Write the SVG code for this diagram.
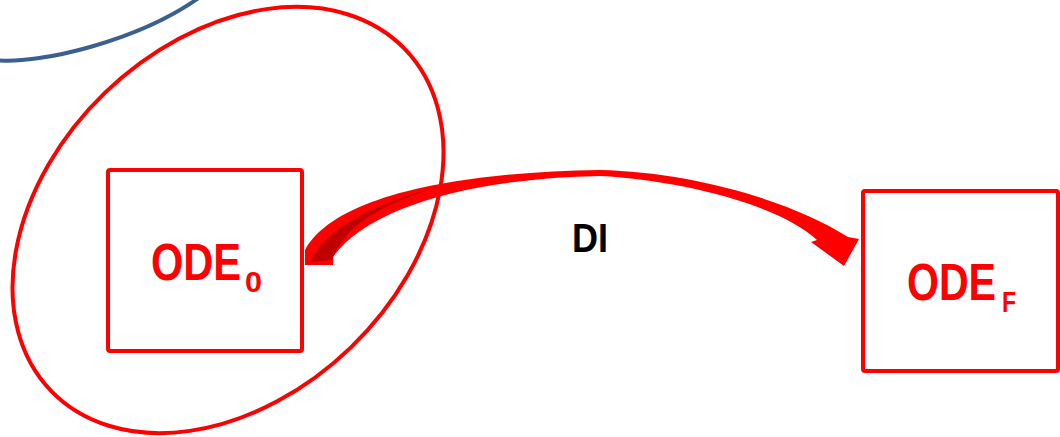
<svg xmlns="http://www.w3.org/2000/svg" width="1060" height="437" viewBox="0 0 1060 437">
<style>
.box{fill:none;stroke:#FF0000;stroke-width:4;}
.lbl{font-family:"Liberation Sans",Arial,sans-serif;font-weight:bold;fill:#FF0000;}
.di{font-family:"Liberation Sans",Arial,sans-serif;font-weight:bold;fill:#000000;}
</style>
<rect width="1060" height="437" fill="#FFFFFF"/>
<g id="blue-arc">
<path d="M -5,60 C 40,65 140,40 200,-3" fill="none" stroke="#3B6090" stroke-width="4"/>
</g>
<g id="ellipse">
<ellipse cx="228" cy="220" rx="246" ry="177" transform="rotate(-44 228 220)" fill="none" stroke="#FF0000" stroke-width="4"/>
</g>
<g id="node-ode0">
<rect class="box" x="108" y="170" width="194" height="181" rx="2"/>
<text class="lbl" x="151" y="280" font-size="52"><tspan textLength="90" lengthAdjust="spacingAndGlyphs">ODE</tspan><tspan x="245" y="292" font-size="30" textLength="17" lengthAdjust="spacingAndGlyphs">0</tspan></text>
</g>
<g id="node-odef">
<rect class="box" x="863" y="191" width="195" height="180" rx="2"/>
<text class="lbl" x="907" y="300" font-size="52"><tspan textLength="89" lengthAdjust="spacingAndGlyphs">ODE</tspan><tspan x="1002" y="312" font-size="30" textLength="14" lengthAdjust="spacingAndGlyphs">F</tspan></text>
</g>
<g id="connectors">
<path d="M 305,265 L 305,250 C 335,195 460,172 600,170 C 690,172 790,200 848,237 L 859,239 L 844,266 L 811,242 L 817,240 C 780,205 680,180 600,176 C 480,178 370,205 333,257 L 333,265 Z" fill="#FF0000"/>
<path d="M 310,262 C 325,230 370,205 440,186 C 380,205 345,225 332,260 Z" fill="#C00000"/>
<text class="di" x="572" y="252" font-size="40" textLength="36" lengthAdjust="spacingAndGlyphs">DI</text>
</g>
</svg>
